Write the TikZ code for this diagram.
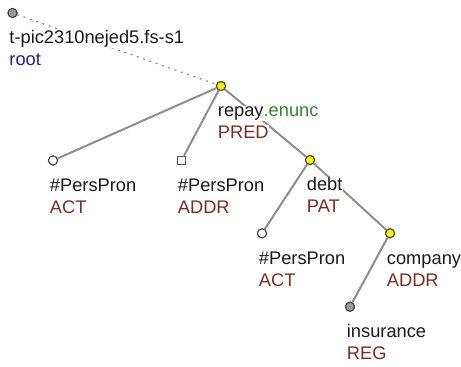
\documentclass[tikz,border=0pt]{standalone}
\usepackage{fontspec}
\setmainfont{Liberation Sans}
\definecolor{edgec}{HTML}{8E8E8E}
\definecolor{functor}{HTML}{7C2D22}
\definecolor{rootblue}{HTML}{1E1E9C}
\definecolor{enuncc}{HTML}{2E8B2E}
\definecolor{nodegray}{HTML}{9A9A9A}
\begin{document}
\begin{tikzpicture}[x=0.75pt,y=-0.75pt,
  edge/.style={draw=edgec,line width=1.5pt},
  rootedge/.style={draw=edgec,line width=0.9pt,dash pattern=on 1.5pt off 3.5pt},
  tnode/.style={circle,draw=black!75,line width=0.75pt,minimum size=6.8pt,inner sep=0pt},
  yel/.style={tnode,fill=yellow},
  wht/.style={tnode,fill=white},
  gry/.style={tnode,fill=nodegray},
  sq/.style={rectangle,draw=black!65,fill=white,line width=0.75pt,minimum size=6.2pt,inner sep=0pt},
  lbl/.style={anchor=base west,fill=white,inner sep=0.5pt,font=\fontsize{13.7pt}{16pt}\selectfont,text=black!90},
  fn/.style={lbl,text=functor}]
\useasboundingbox (0,0) rectangle (461,367);
% tree nodes
\node[gry] (root) at (12.5,13) {};
\node[yel] (repay) at (221,86) {};
\node[wht] (act1) at (53,160.5) {};
\node[sq] (addr1) at (181.5,160.5) {};
\node[yel] (debt) at (310,160) {};
\node[wht] (act2) at (262,233.3) {};
\node[yel] (company) at (390,233.3) {};
\node[gry] (insurance) at (350,306.7) {};
% edges
\draw[rootedge] (root) -- (repay);
\draw[edge] (repay) -- (act1);
\draw[edge] (repay) -- (addr1);
\draw[edge] (repay) -- (debt);
\draw[edge] (debt) -- (act2);
\draw[edge] (debt) -- (company);
\draw[edge] (company) -- (insurance);
% labels
\node[lbl] (root-t) at (8.5,43.5) {t-pic2310nejed5.fs-s1};
\node[lbl,text=rootblue] (root-f) at (8.5,65.5) {root};
\node[lbl] (repay-t) at (217,116.5) {repay\textcolor{enuncc}{.enunc}};
\node[fn] (repay-f) at (217,138.5) {PRED};
\node[lbl] (act1-t) at (49,191.5) {\#PersPron};
\node[fn] (act1-f) at (49,213.5) {ACT};
\node[lbl] (addr1-t) at (177,191.5) {\#PersPron};
\node[fn] (addr1-f) at (177,213.5) {ADDR};
\node[lbl] (debt-t) at (306,191) {debt};
\node[fn] (debt-f) at (306,213) {PAT};
\node[lbl] (act2-t) at (258,264.3) {\#PersPron};
\node[fn] (act2-f) at (258,286.3) {ACT};
\node[lbl] (company-t) at (386,264.3) {company};
\node[fn] (company-f) at (386,286.3) {ADDR};
\node[lbl] (insurance-t) at (346,337.7) {insurance};
\node[fn] (insurance-f) at (346,359.7) {REG};
% redraw circles on top
\node[gry] at (root) {};
\node[yel] at (repay) {};
\node[wht] at (act1) {};
\node[sq] at (addr1) {};
\node[yel] at (debt) {};
\node[wht] at (act2) {};
\node[yel] at (company) {};
\node[gry] at (insurance) {};
\end{tikzpicture}
\end{document}
